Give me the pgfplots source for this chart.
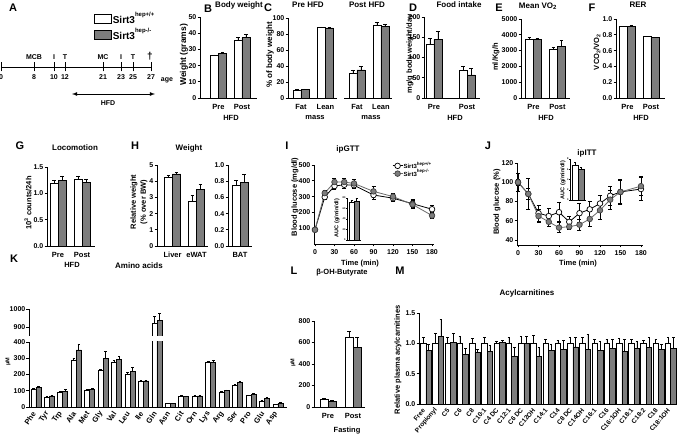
\documentclass[border=0pt]{standalone}
\usepackage{fontspec}
\setmainfont{Liberation Sans}
\usepackage{pgfplots}
\usepackage{pgfplotstable}
\pgfplotsset{compat=1.18}

\definecolor{mygrey}{RGB}{125,125,125}
\definecolor{linegrey}{RGB}{105,105,105}
\newcommand{\fs}[1]{\fontsize{#1}{#1}\selectfont\bfseries}

% x = category, a/ea = Sirt3 hep+/+, b/eb = Sirt3 hep-/-
\pgfplotstableread{
x a ea b eb
0 26.0 0.6 27.6 0.8
1 35.8 1.8 37.3 2.2
}\tabB
\pgfplotstableread{
x a ea b eb
0 10.0 0.6 10.5 0.8
1 88.0 0.8 87.5 0.5
}\tabCpre
\pgfplotstableread{
x a ea b eb
0 31.0 4 35.0 4
1 91.0 4 89.0 3.5
}\tabCpost
\pgfplotstableread{
x a ea b eb
0 132 16 145 19
1 67 10 57 17
}\tabD
\pgfplotstableread{
x a ea b eb
0 3730 80 3690 100
1 3100 130 3290 350
}\tabE
\pgfplotstableread{
x a ea b eb
0 0.90 0.006 0.91 0.005
1 0.775 0.005 0.765 0.004
}\tabF
\pgfplotstableread{
x a ea b eb
0 1.18 0.06 1.24 0.09
1 1.27 0.06 1.20 0.07
}\tabG
\pgfplotstableread{
x a ea b eb
0 4.25 0.10 4.45 0.10
1 2.75 0.35 3.50 0.30
}\tabHl
\pgfplotstableread{
x a ea b eb
0 0.75 0.06 0.79 0.09
}\tabHr
\pgfplotstableread{
t a ea b eb
0 90 10 90 10
15 297 15 322 15
30 367 20 392 25
45 375 22 392 25
60 372 20 383 25
90 310 25 333 30
120 290 20 300 20
150 255 25 250 25
180 220 25 180 20
}\tabI
\pgfplotstableread{
x a ea b eb
0 72 4 74 5
}\tabIi
\pgfplotstableread{
t a ea b eb
0 100 9 100 3
15 88 16 88 6
30 68 8 65 7
45 65 8 59 5
60 69 10 53 5
75 59 6 54 3
90 68 10 56 6
105 72 8 62 8
120 78 8 71 9
135 86 10 82 10
150 90 12 90 13
180 93 12 96 10
}\tabJ
\pgfplotstableread{
x a ea b eb
0 6.8 0.6 6.0 0.3
}\tabJi
\pgfplotstableread{
x a ea b eb
0 109 5 121 6
1 62 3 68 4
2 88 6 98 9
3 289 10 351 37
4 105 3 108 4
5 223 9 297 43
6 275 9 293 20
7 203 8 221 20
8 158 5 160 6
9 922 35 939 35
10 22 2 20 2
11 68 2 66 2
12 65 4 68 6
13 275 8 275 10
14 90 5 100 5
15 135 6 150 6
16 70 3 78 4
17 35 4 52 4
18 15 2 22 4
}\tabK
\pgfplotstableread{
x a ea b eb
0 74 8 52 8
1 652 52 557 93
}\tabL
\pgfplotstableread{
x a ea b eb
0 1.00 0.10 0.88 0.10
1 1.00 0.16 1.12 0.28
2 1.00 0.10 1.02 0.14
3 1.00 0.11 0.82 0.10
4 1.00 0.08 0.85 0.05
5 1.00 0.10 0.86 0.10
6 1.00 0.04 1.02 0.03
7 1.00 0.10 0.78 0.15
8 1.00 0.12 1.00 0.12
9 1.00 0.13 0.79 0.15
10 1.00 0.07 0.89 0.10
11 1.00 0.05 0.90 0.15
12 1.00 0.10 0.94 0.15
13 1.00 0.10 0.90 0.25
14 1.00 0.07 0.89 0.15
15 1.00 0.07 0.92 0.15
16 1.00 0.08 0.87 0.20
17 1.00 0.07 0.91 0.13
18 1.00 0.05 0.93 0.17
19 1.00 0.06 0.90 0.08
20 1.00 0.10 0.92 0.18
}\tabM

\pgfplotsset{
  base/.style={
    scale only axis, anchor=south west,
    axis x line*=bottom, axis y line*=left,
    axis line style={-, line width=0.9pt},
    every outer x axis line/.append style={-},
    every outer y axis line/.append style={-},
    tick style={line width=0.8pt, black},
    tick align=outside, major tick length=2.5pt,
    tick label style={font=\fs{7}},
    yticklabel style={inner sep=1pt},
    /pgf/number format/assume math mode=true,
    /pgf/number format/1000 sep={},
    scaled y ticks=false,
    enlargelimits=false,
  },
  onedec/.style={yticklabel style={/pgf/number format/.cd, fixed, fixed zerofill, precision=1}},
  bars/.style={base, ybar=0pt, bar width=8pt, ymin=0,
    xtick style={draw=none},
    xticklabel style={font=\fs{7.5}},
  },
  errb/.style={
    error bars/y dir=plus, error bars/y explicit,
    error bars/error bar style={line width=0.8pt, black},
    error bars/error mark options={rotate=90, mark size=#1, line width=0.8pt, black},
  },
  wbar/.style={fill=white, draw=black, line width=0.8pt, errb=1.8pt},
  gbar/.style={fill=mygrey, draw=black, line width=0.8pt, errb=1.8pt},
  inset/.style={base, ybar=0pt, ymin=0, xmin=-0.5, xmax=0.5, xtick=\empty,
    tick label style={font=\fs{2.5}}, yticklabel style={inner sep=0.3pt}, major tick length=1pt,
    axis line style={line width=0.5pt}, tick style={line width=0.4pt}},
  iwbar/.style={fill=white, draw=black, line width=0.6pt, errb=1pt},
  igbar/.style={fill=mygrey, draw=black, line width=0.6pt, errb=1pt},
  wline/.style={black, line width=0.8pt, mark=*, mark size=2.8pt,
    mark options={fill=white, draw=black, line width=0.7pt},
    error bars/y dir=both, error bars/y explicit,
    error bars/error bar style={line width=0.7pt, black},
    error bars/error mark options={rotate=90, mark size=2pt, line width=0.7pt, black}},
  gline/.style={linegrey, line width=0.8pt, mark=*, mark size=2.8pt,
    mark options={fill=mygrey, draw=darkgray, line width=0.7pt},
    error bars/y dir=both, error bars/y explicit,
    error bars/error bar style={line width=0.7pt, black},
    error bars/error mark options={rotate=90, mark size=2pt, line width=0.7pt, black}},
}

\begin{document}
\begin{tikzpicture}
\path[use as bounding box] (0,0) rectangle (677pt,-443pt);

% ---------- A: timeline ----------
\begin{axis}[base, at={(1pt,-67pt)}, width=150pt, height=55pt,
    xmin=1, xmax=151, ymin=0, ymax=1, hide y axis, clip=false,
    tick align=center, major tick length=9pt,
    xtick={1,34,54,65,103,121,133,151},
    xticklabels={0,8,10,12,21,23,25,27},
    legend style={at={(0.62,1.02)}, anchor=north west, draw=none, fill=none,
      inner sep=0pt, row sep=1pt, font=\fs{10}, nodes={inner sep=1pt, anchor=west}},
    legend cell align=left]
  \addlegendimage{legend image code/.code={\filldraw[fill=white,draw=black,line width=0.6pt] (0pt,-4.5pt) rectangle (17pt,4.5pt);}}
  \addlegendentry{Sirt3\raisebox{7pt}{\fs{6}hep+/+}}
  \addlegendimage{legend image code/.code={\filldraw[fill=mygrey,draw=black,line width=0.6pt] (0pt,-4.5pt) rectangle (17pt,4.5pt);}}
  \addlegendentry{Sirt3\raisebox{7pt}{\fs{6}hep-/-}}
  \foreach \p/\t in {34/MCB,54/I,65/T,103/MC,121/I,133/T}
    {\edef\tmp{\noexpand\node[font=\noexpand\fs{7}, anchor=south] at (axis cs:\p,0) [yshift=4pt] {\t};}\tmp}
  \node[font=\fs{10}, anchor=south] at (axis cs:150,0) [yshift=3pt] {\textdagger};
  \node[font=\fs{7}] at (axis cs:151,0) [xshift=16pt, yshift=-13pt] {age};
  \draw[<->, >=latex, line width=0.8pt] ([yshift=-27pt]axis cs:72,0) -- ([yshift=-27pt]axis cs:155,0);
  \node[font=\fs{7}] at (axis cs:108,0) [yshift=-36pt] {HFD};
\end{axis}

% ---------- B ----------
\begin{axis}[bars, at={(200pt,-98pt)}, width=57pt, height=81pt,
    xmin=-0.79, xmax=1.64, ymax=50, ytick={0,10,...,50},
    xtick={0,1}, xticklabels={Pre,Post}]
  \addplot[wbar] table[x=x, y=a, y error=ea] {\tabB};
  \addplot[gbar] table[x=x, y=b, y error=eb] {\tabB};
\end{axis}

% ---------- C ----------
\begin{axis}[bars, at={(288pt,-98pt)}, width=49pt, height=80pt,
    xmin=-0.53, xmax=1.47, ymax=100, ytick={0,20,...,100},
    xtick={0,1}, xticklabels={Fat,Lean}]
  \addplot[wbar] table[x=x, y=a, y error=ea] {\tabCpre};
  \addplot[gbar] table[x=x, y=b, y error=eb] {\tabCpre};
\end{axis}
\begin{axis}[bars, at={(344pt,-98pt)}, width=48pt, height=80pt,
    xmin=-0.54, xmax=1.46, ymax=100, hide y axis,
    xtick={0,1}, xticklabels={Fat,Lean}]
  \addplot[wbar] table[x=x, y=a, y error=ea] {\tabCpost};
  \addplot[gbar] table[x=x, y=b, y error=eb] {\tabCpost};
\end{axis}

% ---------- D ----------
\begin{axis}[bars, at={(424pt,-98pt)}, width=56pt, height=81pt,
    xmin=-0.3, xmax=1.39, ymax=200, ytick={0,50,...,200},
    xtick={0,1}, xticklabels={Pre,Post}]
  \addplot[wbar] table[x=x, y=a, y error=ea] {\tabD};
  \addplot[gbar] table[x=x, y=b, y error=eb] {\tabD};
\end{axis}

% ---------- E ----------
\begin{axis}[bars, at={(521pt,-98pt)}, width=49pt, height=79pt,
    xmin=-0.52, xmax=1.52, ymax=5000, ytick={0,1000,...,5000},
    xtick={0,1}, xticklabels={Pre,Post}]
  \addplot[wbar] table[x=x, y=a, y error=ea] {\tabE};
  \addplot[gbar] table[x=x, y=b, y error=eb] {\tabE};
\end{axis}

% ---------- F ----------
\begin{axis}[bars, onedec, at={(616pt,-98pt)}, width=49pt, height=79pt,
    xmin=-0.49, xmax=1.6, ymax=1.0, ytick={0,0.2,0.4,0.6,0.8,1.0},
    xtick={0,1}, xticklabels={Pre,Post}]
  \addplot[wbar] table[x=x, y=a, y error=ea] {\tabF};
  \addplot[gbar] table[x=x, y=b, y error=eb] {\tabF};
\end{axis}

% ---------- G ----------
\begin{axis}[bars, onedec, at={(47pt,-246pt)}, width=48pt, height=79pt,
    xmin=-0.46, xmax=1.54, ymax=1.5, ytick={0,0.5,1.0,1.5},
    xtick={0,1}, xticklabels={Pre,Post}]
  \addplot[wbar] table[x=x, y=a, y error=ea] {\tabG};
  \addplot[gbar] table[x=x, y=b, y error=eb] {\tabG};
\end{axis}

% ---------- H ----------
\begin{axis}[bars, at={(157pt,-246pt)}, width=51pt, height=81pt,
    xmin=-0.65, xmax=1.48, ymax=5, ytick={0,1,...,5},
    xtick={0,1}, xticklabels={Liver,eWAT}]
  \addplot[wbar] table[x=x, y=a, y error=ea] {\tabHl};
  \addplot[gbar] table[x=x, y=b, y error=eb] {\tabHl};
\end{axis}
\begin{axis}[bars, onedec, at={(228pt,-246pt)}, width=24pt, height=81pt,
    xmin=-0.5, xmax=0.5, ymax=1.0, ytick={0,0.2,0.4,0.6,0.8,1.0},
    xtick={0}, xticklabels={BAT}]
  \addplot[wbar] table[x=x, y=a, y error=ea] {\tabHr};
  \addplot[gbar] table[x=x, y=b, y error=eb] {\tabHr};
\end{axis}

% ---------- I ----------
\begin{axis}[base, at={(314pt,-244pt)}, width=120pt, height=79pt,
    xmin=-1.5, xmax=183, ymin=0, ymax=500, ytick={100,200,...,500},
    xtick={0,30,...,180}, clip=false,
    legend style={at={(0.65,1.05)}, anchor=north west, draw=none, fill=none,
      inner sep=0pt, row sep=-1.5pt, font=\fs{6}, nodes={inner sep=0.5pt, anchor=west}},
    legend cell align=left,
    legend image code/.code={\draw[mark repeat=2,mark phase=2,#1] plot coordinates {(0pt,0pt) (5pt,0pt) (10pt,0pt)};}]
  \addplot[wline] table[x=t, y=a, y error=ea] {\tabI};
  \addplot[gline] table[x=t, y=b, y error=eb] {\tabI};
  \legend{Sirt3\raisebox{3.5pt}{\fs{4.5}hep+/+}, Sirt3\raisebox{3.5pt}{\fs{4.5}hep-/-}}
\end{axis}
\begin{axis}[inset, at={(347pt,-240pt)}, width=14pt, height=42pt,
    ymax=80, ytick={0,20,...,80}, bar width=5pt]
  \addplot[iwbar] table[x=x, y=a, y error=ea] {\tabIi};
  \addplot[igbar] table[x=x, y=b, y error=eb] {\tabIi};
\end{axis}

% ---------- J ----------
\begin{axis}[base, at={(517pt,-245pt)}, width=126pt, height=82pt,
    xmin=-1.5, xmax=183, ymin=35, ymax=120, ytick={40,60,...,120},
    xtick={0,30,...,180}, clip=false]
  \addplot[wline] table[x=t, y=a, y error=ea] {\tabJ};
  \addplot[gline] table[x=t, y=b, y error=eb] {\tabJ};
\end{axis}
\begin{axis}[inset, at={(570pt,-200pt)}, width=16pt, height=41pt,
    ymax=8, ytick={0,2,...,8}, bar width=6pt]
  \addplot[iwbar] table[x=x, y=a, y error=ea] {\tabJi};
  \addplot[igbar] table[x=x, y=b, y error=eb] {\tabJi};
\end{axis}

% ---------- K (broken y axis) ----------
\begin{axis}[bars, at={(29pt,-407pt)}, width=258pt, height=65pt, bar width=5pt,
    xmin=-0.52, xmax=18.67, ymax=400, ytick={0,100,...,400},
    xtick={0,...,18},
    xticklabels={Phe,Tyr,Trp,Ala,Met,Gly,Val,Leu,Ile,Gln,Asn,Cit,Orn,Lys,Arg,Ser,Pro,Glu,Asp},
    xticklabel style={rotate=55, anchor=east, font=\fs{7.5}}]
  \addplot[wbar, errb=1.3pt] table[x=x, y=a, y error=ea] {\tabK};
  \addplot[gbar, errb=1.3pt] table[x=x, y=b, y error=eb] {\tabK};
\end{axis}
\begin{axis}[bars, at={(29pt,-336pt)}, width=258pt, height=27pt, bar width=5pt,
    xmin=-0.52, xmax=18.67, ymin=850, ymax=1000, ytick={900,1000}, hide x axis]
  \addplot[wbar, errb=1.3pt, restrict y to domain=800:1200] table[x=x, y=a, y error=ea] {\tabK};
  \addplot[gbar, errb=1.3pt, restrict y to domain=800:1200] table[x=x, y=b, y error=eb] {\tabK};
\end{axis}

% ---------- L ----------
\begin{axis}[bars, at={(314pt,-407pt)}, width=51pt, height=86pt,
    xmin=-0.56, xmax=1.48, ymax=800, ytick={0,200,...,800},
    xtick={0,1}, xticklabels={Pre,Post}]
  \addplot[wbar] table[x=x, y=a, y error=ea] {\tabL};
  \addplot[gbar] table[x=x, y=b, y error=eb] {\tabL};
\end{axis}

% ---------- M ----------
\begin{axis}[bars, onedec, at={(419pt,-404pt)}, width=258pt, height=91pt, bar width=5.5pt,
    xmin=-0.57, xmax=20.5, ymax=1.5, ytick={0,0.5,1.0,1.5},
    xtick={0,...,20},
    xticklabels={Free,Propionyl,C5,C6,C8,C10:1,C4 DC,C12:1,C6 DC,C12OH,C14:1,C14,C8 DC,C14OH,C16:1,C16,C16:1OH,C18:1,C18:2,C18,C18:1OH},
    xticklabel style={rotate=50, anchor=east, font=\fs{6.5}}]
  \addplot[wbar, errb=1.3pt] table[x=x, y=a, y error=ea] {\tabM};
  \addplot[gbar, errb=1.3pt] table[x=x, y=b, y error=eb] {\tabM};
\end{axis}

% ---------- panel letters ----------
\foreach \l/\x/\y in {A/13/8,B/208/9,C/268/8,D/413/8,E/499/8,F/592/8,G/20/146,H/135/146,I/287/146,J/488/146,K/14/259,L/294/271,M/400/271}
  \node[font=\fs{11}] at (\x pt,-\y pt) {\l};

% ---------- titles ----------
\node[font=\fs{8}] at (239pt,-5pt) {Body weight};
\node[font=\fs{8}] at (308pt,-5pt) {Pre HFD};
\node[font=\fs{8}] at (367pt,-5pt) {Post HFD};
\node[font=\fs{8}] at (459pt,-5pt) {Food intake};
\node[font=\fs{8}] at (538pt,-6pt) {Mean VO\textsubscript{2}};
\node[font=\fs{8}] at (638pt,-5pt) {RER};
\node[font=\fs{8}] at (75pt,-148pt) {Locomotion};
\node[font=\fs{8}] at (189pt,-148pt) {Weight};
\node[font=\fs{8}] at (348pt,-149pt) {ipGTT};
\node[font=\fs{8}] at (587pt,-153pt) {ipITT};
\node[font=\fs{8}] at (139pt,-266pt) {Amino acids};
\node[font=\fs{7.5}] at (342pt,-273pt) {β-OH-Butyrate};
\node[font=\fs{8}] at (527pt,-293pt) {Acylcarnitines};

% ---------- y labels ----------
\node[rotate=90, font=\fs{8.5}] at (184pt,-55pt) {Weight (grams)};
\node[rotate=90, font=\fs{8}] at (270pt,-55pt) {\% of body weight};
\node[rotate=90, font=\fs{7.5}] at (410pt,-54pt) {mg/g body weight/day};
\node[rotate=90, font=\fs{7.5}] at (496pt,-57pt) {ml/Kg/h};
\node[rotate=90, font=\fs{7.5}] at (597pt,-52pt) {VCO\textsubscript{2}/VO\textsubscript{2}};
\node[rotate=90, font=\fs{7.5}] at (28pt,-203pt) {10\textsuperscript{3} counts/24h};
\node[rotate=90, font=\fs{7.5}] at (134pt,-202pt) {Relative weight};
\node[rotate=90, font=\fs{7.5}] at (144pt,-202pt) {(\% over BW)};
\node[rotate=90, font=\fs{7.5}] at (295pt,-197pt) {Blood glucose (mg/dl)};
\node[rotate=90, font=\fs{7.5}] at (497pt,-202pt) {Blood glucose (\%)};
\node[rotate=90, font=\fs{5.5}] at (337pt,-218pt) {AUC (g/min/dl)};
\node[rotate=90, font=\fs{5.5}] at (563pt,-180pt) {AUC (g/min/dl)};
\node[rotate=90, font=\fs{5.5}] at (8pt,-362pt) {μM};
\node[rotate=90, font=\fs{5.5}] at (293pt,-363pt) {μM};
\node[rotate=90, font=\fs{7.5}] at (398pt,-360pt) {Relative plasma acylcarnitines};

% ---------- x labels ----------
\node[font=\fs{7.5}] at (231pt,-118pt) {HFD};
\node[font=\fs{7.5}] at (315pt,-118pt) {mass};
\node[font=\fs{7.5}] at (371pt,-118pt) {mass};
\node[font=\fs{7.5}] at (455pt,-118pt) {HFD};
\node[font=\fs{7.5}] at (546pt,-118pt) {HFD};
\node[font=\fs{7.5}] at (641pt,-118pt) {HFD};
\node[font=\fs{7.5}] at (72pt,-265pt) {HFD};
\node[font=\fs{7.5}] at (360pt,-264pt) {Time (min)};
\node[font=\fs{7.5}] at (578pt,-264pt) {Time (min)};
\node[font=\fs{7.5}] at (347pt,-431pt) {Fasting};
\end{tikzpicture}
\end{document}
